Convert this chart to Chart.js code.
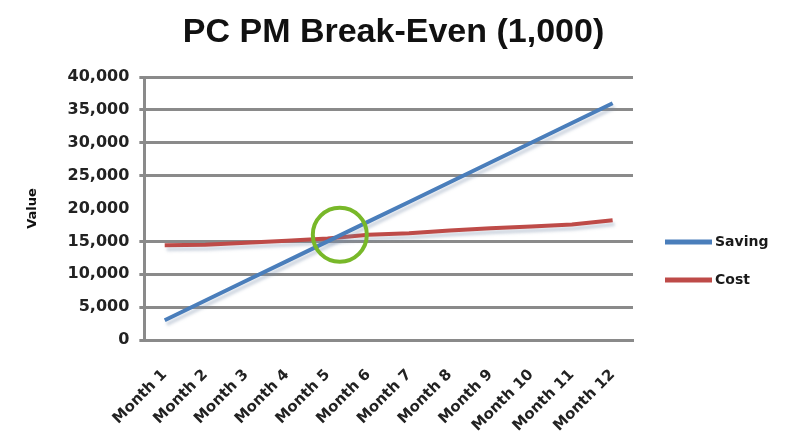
<!DOCTYPE html>
<html>
<head>
<meta charset="utf-8">
<script src="https://cdn.jsdelivr.net/npm/chart.js@4.4.1/dist/chart.umd.min.js"></script>
<style>
  html, body { margin: 0; padding: 0; background: #ffffff; }
  #wrap { width: 787px; height: 438px; position: relative; }
</style>
</head>
<body>
<div id="wrap"><canvas id="c"></canvas></div>
<script>
const categories = ["Month 1","Month 2","Month 3","Month 4","Month 5","Month 6","Month 7","Month 8","Month 9","Month 10","Month 11","Month 12"];
const savingValues = [3000, 6000, 9000, 12000, 15000, 18000, 21000, 24000, 27000, 30000, 33000, 36000];
const costValues = [14400, 14500, 14800, 15100, 15450, 16000, 16250, 16650, 17000, 17250, 17550, 18200];
const seriesNames = ["Saving", "Cost"];
const titleText = "PC PM Break-Even (1,000)";
const yAxisTitle = "Value";
const breakEvenIndex = 4.3;
const breakEvenValue = 16000;
const hiddenGridValue = 20000;

const TITLE_FONT = "'Liberation Sans', Arial, sans-serif";
const FONT = "'DejaVu Sans', 'Liberation Sans', sans-serif";

const lineShadow = {
  id: 'lineShadow',
  beforeDatasetDraw(chart) {
    const ctx = chart.ctx;
    ctx.save();
    ctx.shadowColor = 'rgba(120,140,170,0.35)';
    ctx.shadowBlur = 3;
    ctx.shadowOffsetX = 2;
    ctx.shadowOffsetY = 4;
  },
  afterDatasetDraw(chart) {
    chart.ctx.restore();
  }
};

const breakEvenMarker = {
  id: 'breakEvenMarker',
  afterDatasetsDraw(chart) {
    const ctx = chart.ctx;
    const x = chart.scales.x.getPixelForValue(breakEvenIndex);
    const y = chart.scales.y.getPixelForValue(breakEvenValue);
    ctx.save();
    ctx.beginPath();
    ctx.arc(x, y, 27, 0, Math.PI * 2);
    ctx.lineWidth = 4;
    ctx.strokeStyle = '#78b829';
    ctx.stroke();
    ctx.restore();
  }
};

const centeredTitle = {
  id: 'centeredTitle',
  afterDraw(chart) {
    const ctx = chart.ctx;
    ctx.save();
    ctx.fillStyle = '#111111';
    ctx.font = "bold 34px " + TITLE_FONT;
    ctx.textAlign = 'center';
    ctx.textBaseline = 'alphabetic';
    ctx.fillText(titleText, chart.width / 2, 42);
    ctx.restore();
  }
};

const sideLegend = {
  id: 'sideLegend',
  afterDraw(chart) {
    const ctx = chart.ctx;
    const area = chart.chartArea;
    const x0 = area.right + 32;
    const yStart = area.top + 165;
    const gap = 38;
    ctx.save();
    chart.data.datasets.forEach((ds, i) => {
      const y = yStart + i * gap;
      ctx.beginPath();
      ctx.moveTo(x0, y);
      ctx.lineTo(x0 + 47, y);
      ctx.lineWidth = 5;
      ctx.strokeStyle = ds.borderColor;
      ctx.stroke();
      ctx.fillStyle = '#1a1a1a';
      ctx.font = "bold 14px " + FONT;
      ctx.textBaseline = 'middle';
      ctx.textAlign = 'left';
      ctx.fillText(ds.label, x0 + 50, y);
    });
    ctx.restore();
  }
};

new Chart(document.getElementById('c'), {
  type: 'line',
  data: {
    labels: categories,
    datasets: [
      { label: seriesNames[0], data: savingValues, borderColor: '#4a7ebb', backgroundColor: '#4a7ebb', borderWidth: 4, pointRadius: 0, tension: 0 },
      { label: seriesNames[1], data: costValues, borderColor: '#be4b48', backgroundColor: '#be4b48', borderWidth: 4, pointRadius: 0, tension: 0 }
    ]
  },
  options: {
    responsive: true,
    maintainAspectRatio: false,
    animation: false,
    layout: { padding: { left: 25, right: 154, top: 77, bottom: 0 } },
    plugins: {
      legend: { display: false },
      tooltip: { enabled: false },
      title: { display: false }
    },
    scales: {
      x: {
        offset: true,
        afterFit: (scale) => { scale.height = 98; },
        grid: { display: false, drawTicks: false },
        border: { display: true, color: '#8a8a8a', width: 3 },
        ticks: {
          color: '#222222',
          font: { family: FONT, size: 15, weight: 'bold' },
          minRotation: 45,
          maxRotation: 45,
          padding: 26,
          autoSkip: false
        }
      },
      y: {
        min: 0,
        max: 40000,
        title: {
          display: true,
          text: yAxisTitle,
          color: '#111111',
          font: { family: FONT, size: 13, weight: 'bold' },
          padding: { top: 0, bottom: 17 }
        },
        grid: {
          color: (c) => (c.tick && c.tick.value === hiddenGridValue) ? 'rgba(0,0,0,0)' : '#8a8a8a',
          lineWidth: 3,
          drawTicks: true,
          tickLength: 5
        },
        border: { display: true, color: '#8a8a8a', width: 3 },
        ticks: {
          stepSize: 5000,
          color: '#222222',
          font: { family: FONT, size: 16, weight: 'bold' },
          padding: 10,
          callback: (v) => v.toLocaleString('en-US')
        }
      }
    }
  },
  plugins: [lineShadow, breakEvenMarker, centeredTitle, sideLegend]
});
</script>
</body>
</html>
